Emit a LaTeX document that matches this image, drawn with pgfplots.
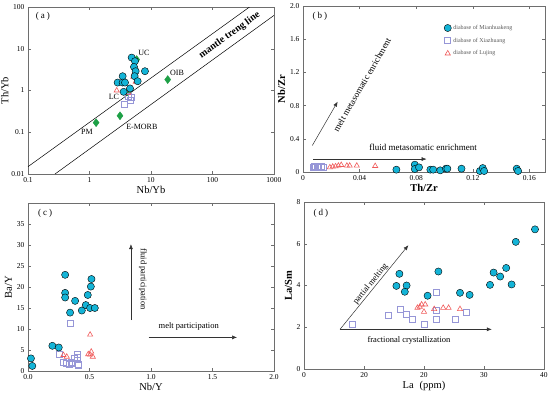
\documentclass[border=0pt]{standalone}
\usepackage{fontspec}
\setmainfont{Liberation Serif}
\usepackage{pgfplots}
\pgfplotsset{compat=1.18}
\usetikzlibrary{arrows.meta}
\definecolor{cy}{RGB}{20,180,215}
\definecolor{lav}{RGB}{150,150,215}
\definecolor{rd}{RGB}{240,90,90}
\definecolor{gr}{RGB}{30,160,70}
\definecolor{fr}{RGB}{110,110,110}
\tikzset{
 ann/.style={font=\fontsize{8}{9}\selectfont},
 arr/.style={-{Latex[length=5pt,width=4pt]}, line width=0.5pt, black!80},
}
\pgfplotsset{
 base/.style={scale only axis, anchor=north west, axis line style={fr},
   every tick/.style={fr}, tick align=inside, major tick length=3pt,
   tick label style={font=\fontsize{7.5}{8}\selectfont},
   label style={font=\fontsize{10.5}{12}\selectfont},
   /pgf/number format/assume math mode=true, clip mode=individual},
 cyc/.style={only marks, mark=*, mark size=3.6pt, mark options={fill=cy, draw=black, line width=0.4pt}},
 sq/.style={only marks, mark=square, mark size=3pt, mark options={draw=lav, line width=0.6pt}},
 tri/.style={only marks, mark=triangle, mark size=3pt, mark options={draw=rd, line width=0.6pt}},
 dia/.style={only marks, mark=diamond*, mark size=4pt, mark options={fill=gr, draw=gr}},
}
\begin{document}
\begin{tikzpicture}
\path[use as bounding box] (0,0) rectangle (550pt,-397pt);
% (a)
\begin{axis}[base, at={(28pt,-7pt)}, width=246pt, height=167pt,
  xmode=log, ymode=log, xmin=0.1, xmax=1000, ymin=0.01, ymax=100,
  xtick={0.1,1,10,100,1000}, xticklabels={0.1,1,10,100,1000},
  ytick={0.01,0.1,1,10,100}, yticklabels={0.01,0.1,1,10,100},
  xminorticks=false, yminorticks=false,
  xlabel={Nb/Yb}, ylabel={Th/Yb}, ylabel style={yshift=-4pt}, xlabel style={yshift=3pt}]
\addplot[black, line width=0.5pt] coordinates {(0.1,0.015) (400,100)};
\addplot[black, line width=0.5pt] coordinates {(0.275,0.01) (1000,63)};
\addplot[dia] coordinates {(1.28,0.17) (3.13,0.248) (18.7,1.83) (5.85,5.5) (4.18,0.93)};
\addplot[sq] coordinates {(3.64,0.47) (4.73,0.67) (4.28,0.71) (4.56,0.59)};
\addplot[tri] coordinates {(2.77,1.0) (5.16,2.12) (5.29,2.55) (5.63,1.61) (4.28,0.88)};
\addplot[cyc] coordinates {(4.85,6.15) (5.49,5.03) (5.29,3.68) (5.63,2.90) (5.42,2.20) (7.98,2.90) (3.46,2.20) (2.87,1.55) (3.46,1.55) (3.78,1.55) (6.07,1.67) (4.56,1.12) (3.59,0.93)};
\node[ann] at (axis cs:7.7,7.9) {UC};
\node[ann] at (axis cs:2.5,0.70) {LC};
\node[ann] at (axis cs:26.5,2.62) {OIB};
\node[ann] at (axis cs:0.91,0.101) {PM};
\node[ann] at (axis cs:7.1,0.134) {E-MORB};
\node[font=\fontsize{9}{10}\selectfont] at (axis cs:0.175,60.8) {(\hspace{2pt}a\hspace{2pt})};
\node[rotate=35.7, font=\bfseries\fontsize{10}{11}\selectfont] at (axis cs:190,21) {mantle treng line};
\end{axis}
% (b)
\begin{axis}[base, at={(303pt,-6pt)}, width=242pt, height=166pt,
  xmin=0, xmax=0.171, ymin=0, ymax=2.0,
  xtick={0,0.04,0.08,0.12,0.16}, xticklabels={0,0.04,0.08,0.12,0.16},
  ytick={0,0.4,0.8,1.2,1.6,2.0}, yticklabels={0,0.4,0.8,1.2,1.6,2.0},
  xlabel={\textbf{Th/Zr}}, ylabel={\textbf{Nb/Zr}}, ylabel style={yshift=-2pt}, xlabel style={yshift=3pt},
  legend style={draw=none, fill=none, font=\fontsize{6}{7}\selectfont, text=black!65,
    at={(0.57,0.91)}, anchor=north west, row sep=3pt}, legend cell align=left]
\addplot[cyc] coordinates {(0.066,0.028) (0.079,0.088) (0.079,0.036) (0.082,0.056) (0.090,0.028) (0.092,0.028) (0.097,0.02) (0.101,0.04) (0.102,0.04) (0.112,0.04) (0.125,0.012) (0.127,0.048) (0.128,0.012) (0.151,0.04) (0.152,0.012)};
\addlegendentry{diabase of Mianhuakeng}
\addplot[sq] coordinates {(0.007,0.06) (0.008,0.064) (0.009,0.06) (0.010,0.064) (0.011,0.06) (0.013,0.064) (0.014,0.06)};
\addlegendentry{diabase of Xiazhuang}
\addplot[tri] coordinates {(0.019,0.056) (0.021,0.064) (0.023,0.068) (0.025,0.076) (0.027,0.084) (0.031,0.076) (0.033,0.076) (0.038,0.076) (0.051,0.072)};
\addlegendentry{diabase of Lujing}
\draw[arr] (axis cs:0.0066,0.32) -- (axis cs:0.0245,0.848);
\draw[arr] (axis cs:0.0073,0.156) -- (axis cs:0.0873,0.156);
\node[rotate=60, font=\fontsize{9}{10}\selectfont] at (axis cs:0.0417,1.048) {melt metasomatic enrichment};
\node[font=\fontsize{9}{10}\selectfont] at (axis cs:0.0848,0.30) {fluid metasomatic enrichment};
\node[font=\fontsize{9}{10}\selectfont] at (axis cs:0.012,1.876) {(\hspace{2pt}b\hspace{2pt})};
\end{axis}
% (c)
\begin{axis}[base, at={(28pt,-203pt)}, width=246pt, height=168pt,
  xmin=0, xmax=2.0, ymin=0, ymax=40,
  xtick={0,0.5,1,1.5,2}, xticklabels={0.0,0.5,1.0,1.5,2.0},
  ytick={0,5,10,15,20,25,30,35}, yticklabels={0,5,10,15,20,25,30,35},
  xlabel={Nb/Y}, ylabel={Ba/Y}, ylabel style={yshift=-2pt}, xlabel style={yshift=3pt}]
\addplot[sq] coordinates {(0.342,11.4) (0.253,4.0) (0.283,2.1) (0.315,1.8) (0.334,1.5) (0.35,2.0) (0.375,3.0) (0.397,4.0) (0.397,3.25) (0.405,1.7) (0.413,1.3) (0.364,1.8)};
\addplot[tri] coordinates {(0.288,3.8) (0.315,3.4) (0.505,8.65) (0.514,4.6) (0.49,4.0) (0.505,3.9) (0.527,3.4)};
\addplot[cyc] coordinates {(0.024,3.0) (0.035,1.2) (0.198,6.0) (0.25,5.6) (0.302,22.9) (0.302,18.6) (0.302,17.5) (0.342,13.9) (0.383,16.7) (0.4375,14.4) (0.47,15.7) (0.486,18.1) (0.505,15.0) (0.511,20.1) (0.516,21.9) (0.543,15.0)};
\draw[arr] (axis cs:0.837,12.1) -- (axis cs:0.837,30.2);
\draw[arr] (axis cs:0.98,8.0) -- (axis cs:1.70,8.0);
\node[rotate=-90, font=\fontsize{8.5}{9}\selectfont] at (axis cs:0.935,21.9) {fluid participation};
\node[font=\fontsize{8.5}{9}\selectfont] at (axis cs:1.307,10.6) {melt participation};
\node[font=\fontsize{9}{10}\selectfont] at (axis cs:0.139,37.5) {(\hspace{2pt}c\hspace{2pt})};
\end{axis}
% (d)
\begin{axis}[base, at={(304pt,-202pt)}, width=240pt, height=167pt,
  xmin=0, xmax=40, ymin=0, ymax=8,
  xtick={0,10,20,30,40}, xticklabels={0,20,20,30,40},
  ytick={0,2,4,6,8}, yticklabels={0,2,4,6,8},
  xlabel={La\hspace{6pt}(ppm)}, ylabel={\textbf{La/Sm}}, ylabel style={yshift=-2pt}, xlabel style={yshift=3pt}]
\addplot[sq] coordinates {(8.06,2.14) (14.1,2.57) (16.1,2.88) (17.0,2.61) (18.1,2.39) (20.1,2.15) (22.1,3.67) (22.1,2.82) (22.1,2.39) (25.2,2.39) (27.1,2.74)};
\addplot[tri] coordinates {(18.9,2.93) (19.3,2.98) (19.6,3.09) (20.2,3.09) (20.0,2.74) (21.7,2.87) (23.2,2.93) (24.1,2.93) (26.0,2.87)};
\addplot[cyc] coordinates {(38.5,6.69) (35.3,6.09) (15.9,4.56) (22.4,4.67) (15.4,3.98) (17.1,4.0) (16.8,3.70) (20.6,3.51) (26.0,3.65) (27.6,3.55) (31.6,4.62) (33.7,4.84) (32.7,4.43) (31.0,4.03) (34.6,4.05)};
\draw[arr] (axis cs:6.0,1.9) -- (axis cs:17.4,5.93);
\draw[arr] (axis cs:6.0,1.9) -- (axis cs:31.3,1.9);
\node[rotate=51, font=\fontsize{8.5}{9}\selectfont] at (axis cs:11.1,4.06) {partial melting};
\node[font=\fontsize{8.5}{9}\selectfont] at (axis cs:17.5,1.35) {fractional crystallization};
\node[font=\fontsize{9}{10}\selectfont] at (axis cs:2.8,7.47) {(\hspace{2pt}d\hspace{2pt})};
\end{axis}
\end{tikzpicture}
\end{document}
